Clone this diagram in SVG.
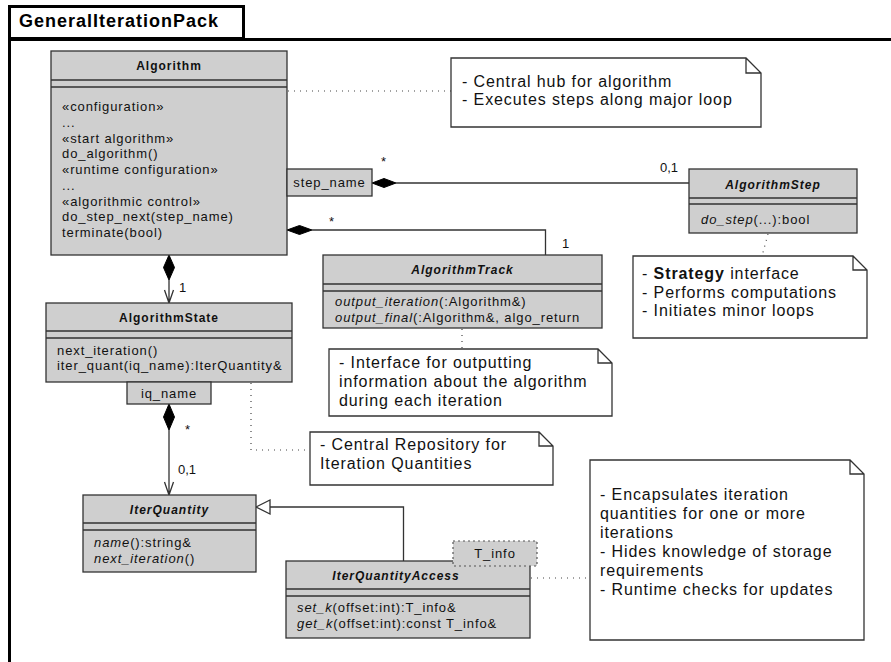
<svg xmlns="http://www.w3.org/2000/svg" width="891" height="662" viewBox="0 0 891 662">
  <defs>
    <style>
      .frame { fill: none; stroke: #000; stroke-width: 3; }
      .cls { fill: #cfcfcf; stroke: #333; stroke-width: 1.3; }
      .sep { stroke: #333; stroke-width: 1.3; }
      .ttl { font-family: "Liberation Sans", Arial, sans-serif; font-size: 12px; font-weight: bold; letter-spacing: 1px; text-anchor: middle; fill: #111; }
      .abs { font-style: italic; }
      .op { font-family: "Liberation Sans", Arial, sans-serif; font-size: 13px; letter-spacing: 0.9px; fill: #111; }
      .it { font-style: italic; }
      .note { fill: #fff; stroke: #333; stroke-width: 1.3; }
      .nt { font-family: "Liberation Sans", Arial, sans-serif; font-size: 16px; letter-spacing: 0.9px; fill: #111; }
      .link { fill: none; stroke: #333; stroke-width: 1.3; }
      .dot { fill: none; stroke: #444; stroke-width: 1.2; stroke-dasharray: 1 5; }
      .dia { fill: #000; stroke: #000; stroke-width: 1; }
      .mult { font-family: "Liberation Sans", Arial, sans-serif; font-size: 13px; fill: #111; }
    </style>
  </defs>

  <rect width="891" height="662" fill="#fff"/>

  <!-- package frame -->
  <g id="package">
    <rect class="frame" x="9.5" y="6.5" width="234" height="32"/>
    <path class="frame" d="M9.5 39.5 H891 M9.5 6 V662"/>
    <text x="19" y="27" font-family="Liberation Sans, Arial, sans-serif" font-size="18" font-weight="bold" letter-spacing="1" fill="#000">GeneralIterationPack</text>
  </g>

  <!-- connectors -->
  <g id="connectors">
    <!-- Algorithm (step_name) to AlgorithmStep -->
    <polygon class="dia" points="372,183 384,178.5 396,183 384,187.5"/>
    <path class="link" d="M396 183 H689"/>
    <text class="mult" x="381" y="166">*</text>
    <text class="mult" x="660" y="172">0,1</text>
    <!-- Algorithm to AlgorithmTrack -->
    <polygon class="dia" points="287,230 299.5,225.5 312,230 299.5,234.5"/>
    <path class="link" d="M312 230 H545.5 V255"/>
    <text class="mult" x="329" y="226">*</text>
    <text class="mult" x="562" y="248">1</text>
    <!-- Algorithm to AlgorithmState -->
    <polygon class="dia" points="169,255 174.5,267.5 169,280 163.5,267.5"/>
    <path class="link" d="M169 280 V303 M164.5 290 L169 303 L173.5 290"/>
    <text class="mult" x="179" y="292">1</text>
    <!-- AlgorithmState (iq_name) to IterQuantity -->
    <polygon class="dia" points="169,404 174.5,417 169,430 163.5,417"/>
    <path class="link" d="M169 430 V495 M164.5 482 L169 495 L173.5 482"/>
    <text class="mult" x="185" y="434">*</text>
    <text class="mult" x="178" y="474">0,1</text>
    <!-- IterQuantityAccess generalizes IterQuantity -->
    <path class="link" d="M270 507 H403.5 V561"/>
    <polygon points="256,507 270,500 270,514" fill="#fff" stroke="#333" stroke-width="1.3"/>
    <!-- note anchors -->
    <path class="dot" d="M288 91 H451"/>
    <path class="dot" d="M768 234 L762 256"/>
    <path class="dot" d="M462 329 V349"/>
    <path class="dot" d="M251 383 V450 H310"/>
    <path class="dot" d="M531 578 H590"/>
  </g>

  <!-- classes -->
  <g id="Algorithm">
    <rect class="cls" x="51" y="51" width="236" height="204"/>
    <path class="sep" d="M51 80 H287 M51 87 H287"/>
    <text class="ttl" x="169" y="70">Algorithm</text>
    <text class="op" x="62" y="111">«configuration»</text>
    <text class="op" x="62" y="127">...</text>
    <text class="op" x="62" y="142.5">«start algorithm»</text>
    <text class="op" x="62" y="158">do_algorithm()</text>
    <text class="op" x="62" y="174">«runtime configuration»</text>
    <text class="op" x="62" y="190">...</text>
    <text class="op" x="62" y="205.5">«algorithmic control»</text>
    <text class="op" x="62" y="221">do_step_next(step_name)</text>
    <text class="op" x="62" y="237">terminate(bool)</text>
  </g>

  <g id="step_name">
    <rect class="cls" x="287" y="169" width="85" height="27"/>
    <text class="op" x="329.5" y="187" text-anchor="middle">step_name</text>
  </g>

  <g id="AlgorithmStep">
    <rect class="cls" x="689" y="169" width="168" height="64"/>
    <path class="sep" d="M689 198 H857 M689 204 H857"/>
    <text class="ttl abs" x="773" y="189">AlgorithmStep</text>
    <text class="op" x="701" y="224"><tspan class="it">do_step</tspan>(...):bool</text>
  </g>

  <g id="AlgorithmTrack">
    <rect class="cls" x="323" y="255" width="279" height="73"/>
    <path class="sep" d="M323 284 H602 M323 291 H602"/>
    <text class="ttl abs" x="462.5" y="274">AlgorithmTrack</text>
    <text class="op" x="335" y="306"><tspan class="it">output_iteration</tspan>(:Algorithm&amp;)</text>
    <text class="op" x="335" y="322"><tspan class="it">output_final</tspan>(:Algorithm&amp;, algo_return</text>
  </g>

  <g id="AlgorithmState">
    <rect class="cls" x="46" y="303" width="246" height="79"/>
    <path class="sep" d="M46 331 H292 M46 338 H292"/>
    <text class="ttl" x="169" y="322">AlgorithmState</text>
    <text class="op" x="57" y="355">next_iteration()</text>
    <text class="op" x="57" y="370">iter_quant(iq_name):IterQuantity&amp;</text>
  </g>

  <g id="iq_name">
    <rect class="cls" x="127" y="382" width="84" height="22"/>
    <text class="op" x="169" y="398" text-anchor="middle">iq_name</text>
  </g>

  <g id="IterQuantity">
    <rect class="cls" x="83" y="495" width="173" height="77"/>
    <path class="sep" d="M83 523 H256 M83 530 H256"/>
    <text class="ttl abs" x="169.5" y="514">IterQuantity</text>
    <text class="op" x="94" y="547"><tspan class="it">name</tspan>():string&amp;</text>
    <text class="op" x="94" y="563"><tspan class="it">next_iteration</tspan>()</text>
  </g>

  <g id="IterQuantityAccess">
    <rect class="cls" x="286" y="561" width="244" height="77"/>
    <path class="sep" d="M286 589 H530 M286 596 H530"/>
    <text class="ttl abs" x="396" y="580">IterQuantityAccess</text>
    <text class="op" x="297" y="612"><tspan class="it">set_k</tspan>(offset:int):T_info&amp;</text>
    <text class="op" x="297" y="628"><tspan class="it">get_k</tspan>(offset:int):const T_info&amp;</text>
    <rect x="453" y="541" width="84" height="25" fill="#cfcfcf" stroke="#555" stroke-width="1.2" stroke-dasharray="2 3"/>
    <text class="op" x="495" y="558" text-anchor="middle">T_info</text>
  </g>

  <!-- notes -->
  <g id="note-algorithm">
    <path class="note" d="M451 58 H746 L761 73 V127 H451 Z M746 58 V73 H761"/>
    <text class="nt" x="462" y="87">- Central hub for algorithm</text>
    <text class="nt" x="462" y="105">- Executes steps along major loop</text>
  </g>

  <g id="note-step">
    <path class="note" d="M633 256 H853 L867 270 V338 H633 Z M853 256 V270 H867"/>
    <text class="nt" x="642" y="279">- <tspan font-weight="bold">Strategy</tspan> interface</text>
    <text class="nt" x="642" y="297.5">- Performs computations</text>
    <text class="nt" x="642" y="316">- Initiates minor loops</text>
  </g>

  <g id="note-track">
    <path class="note" d="M329 349 H598 L612 363 V416 H329 Z M598 349 V363 H612"/>
    <text class="nt" x="339" y="368">- Interface for outputting</text>
    <text class="nt" x="339" y="387">information about the algorithm</text>
    <text class="nt" x="339" y="406">during each iteration</text>
  </g>

  <g id="note-state">
    <path class="note" d="M310 432 H539 L553 446 V485 H310 Z M539 432 V446 H553"/>
    <text class="nt" x="320" y="450">- Central Repository for</text>
    <text class="nt" x="320" y="469">Iteration Quantities</text>
  </g>

  <g id="note-access">
    <path class="note" d="M590 460 H850 L864 474 V640 H590 Z M850 460 V474 H864"/>
    <text class="nt" x="600" y="500">- Encapsulates iteration</text>
    <text class="nt" x="600" y="519">quantities for one or more</text>
    <text class="nt" x="600" y="538">iterations</text>
    <text class="nt" x="600" y="557">- Hides knowledge of storage</text>
    <text class="nt" x="600" y="576">requirements</text>
    <text class="nt" x="600" y="595">- Runtime checks for updates</text>
  </g>
</svg>
